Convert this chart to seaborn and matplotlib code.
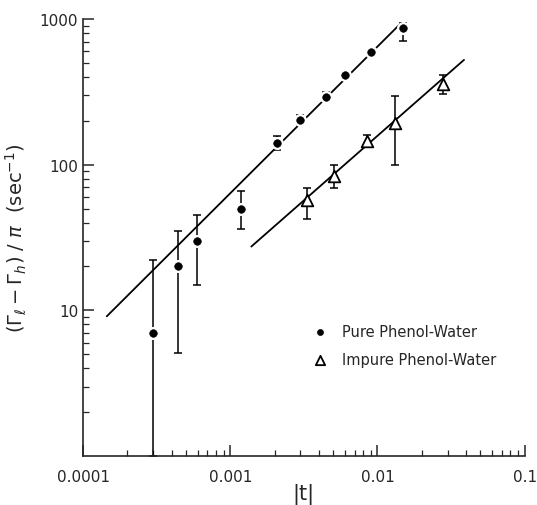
import numpy as np
import pandas as pd
import matplotlib
matplotlib.use("Agg")
import matplotlib.pyplot as plt
import seaborn as sns

# pure phenol-water (filled circles)
pure_t = [0.0003, 0.000445, 0.00059, 0.00119, 0.00208, 0.00297, 0.0045, 0.0060, 0.0090, 0.0150]
pure_g = [7, 20, 30, 50, 141, 203, 292, 413, 594, 867]
pure_lo = [1, 5.1, 15, 36, 126, 188, 270, 395, 570, 707]
pure_hi = [22, 35, 45, 66, 158, 218, 315, 432, 620, 940]

# impure phenol-water (open triangles)
imp_t = [0.00331, 0.00505, 0.00843, 0.0132, 0.0279]
imp_g = [57, 84, 146, 194, 359]
imp_lo = [42.7, 69.5, 135, 100, 306]
imp_hi = [69.5, 100, 160, 296, 413]

# fitted lines (end points)
pure_fit_t = [0.000145, 0.0145]
pure_fit_g = [9.1, 940]
imp_fit_t = [0.00139, 0.0387]
imp_fit_g = [27.4, 524]

sns.set_style("ticks")
plt.rcParams["font.family"] = ["DejaVu Sans"]

fig = plt.figure(figsize=(5.37, 5.06), dpi=100)
ax = fig.add_axes([0.1546, 0.0968, 0.8225, 0.8637])

fits = pd.DataFrame({"t": pure_fit_t + imp_fit_t,
                     "g": pure_fit_g + imp_fit_g,
                     "set": ["pure"] * 2 + ["impure"] * 2})
sns.lineplot(data=fits, x="t", y="g", units="set", estimator=None,
             color="black", lw=1.3, ax=ax, zorder=1)

pure_lo_err = np.array(pure_g) - np.array(pure_lo)
pure_hi_err = np.array(pure_hi) - np.array(pure_g)
imp_lo_err = np.array(imp_g) - np.array(imp_lo)
imp_hi_err = np.array(imp_hi) - np.array(imp_g)

ax.errorbar(pure_t, pure_g, yerr=[pure_lo_err, pure_hi_err], fmt="none",
            ecolor="black", elinewidth=1.1, capsize=3, capthick=1.1, zorder=2)
ax.errorbar(imp_t, imp_g, yerr=[imp_lo_err, imp_hi_err], fmt="none",
            ecolor="black", elinewidth=1.1, capsize=3, capthick=1.1, zorder=2)

# white halo so the fit line is broken around the points
ax.scatter(pure_t, pure_g, s=70, color="white", zorder=3)
sns.scatterplot(x=pure_t, y=pure_g, marker="o", s=30, color="black",
                edgecolor="black", ax=ax, zorder=4, label="Pure Phenol-Water")
sns.scatterplot(x=imp_t, y=imp_g, marker="^", s=70, facecolor="white",
                edgecolor="black", linewidth=1.3, ax=ax, zorder=4,
                label="Impure Phenol-Water")

ax.set_xscale("log")
ax.set_yscale("log")
ax.set_xlim(0.0001, 0.1)
ax.set_ylim(1, 1000)
ax.set_xticks([0.0001, 0.001, 0.01, 0.1])
ax.set_xticklabels(["0.0001", "0.001", "0.01", "0.1"])
ax.set_yticks([10, 100, 1000])
ax.set_yticklabels(["10", "100", "1000"])
ax.tick_params(which="major", direction="in", length=8, width=1.1, labelsize=11)
ax.tick_params(which="minor", direction="in", length=4, width=0.9)
ax.tick_params(axis="x", pad=9)
sns.despine(ax=ax)
for s in ["left", "bottom"]:
    ax.spines[s].set_linewidth(1.2)

ax.set_xlabel("|t|", fontsize=15, labelpad=-1)
ax.set_ylabel(r"$(\Gamma_{\ell} - \Gamma_h)\ /\ \pi\ \ (\mathrm{sec}^{-1})$",
              fontsize=14, labelpad=8)

ax.legend(loc="upper left", bbox_to_anchor=(0.49, 0.315), frameon=False,
          fontsize=10.5, handletextpad=0.5, labelspacing=0.9, markerscale=0.8,
          borderaxespad=0)

fig.savefig("out.png", dpi=100)
